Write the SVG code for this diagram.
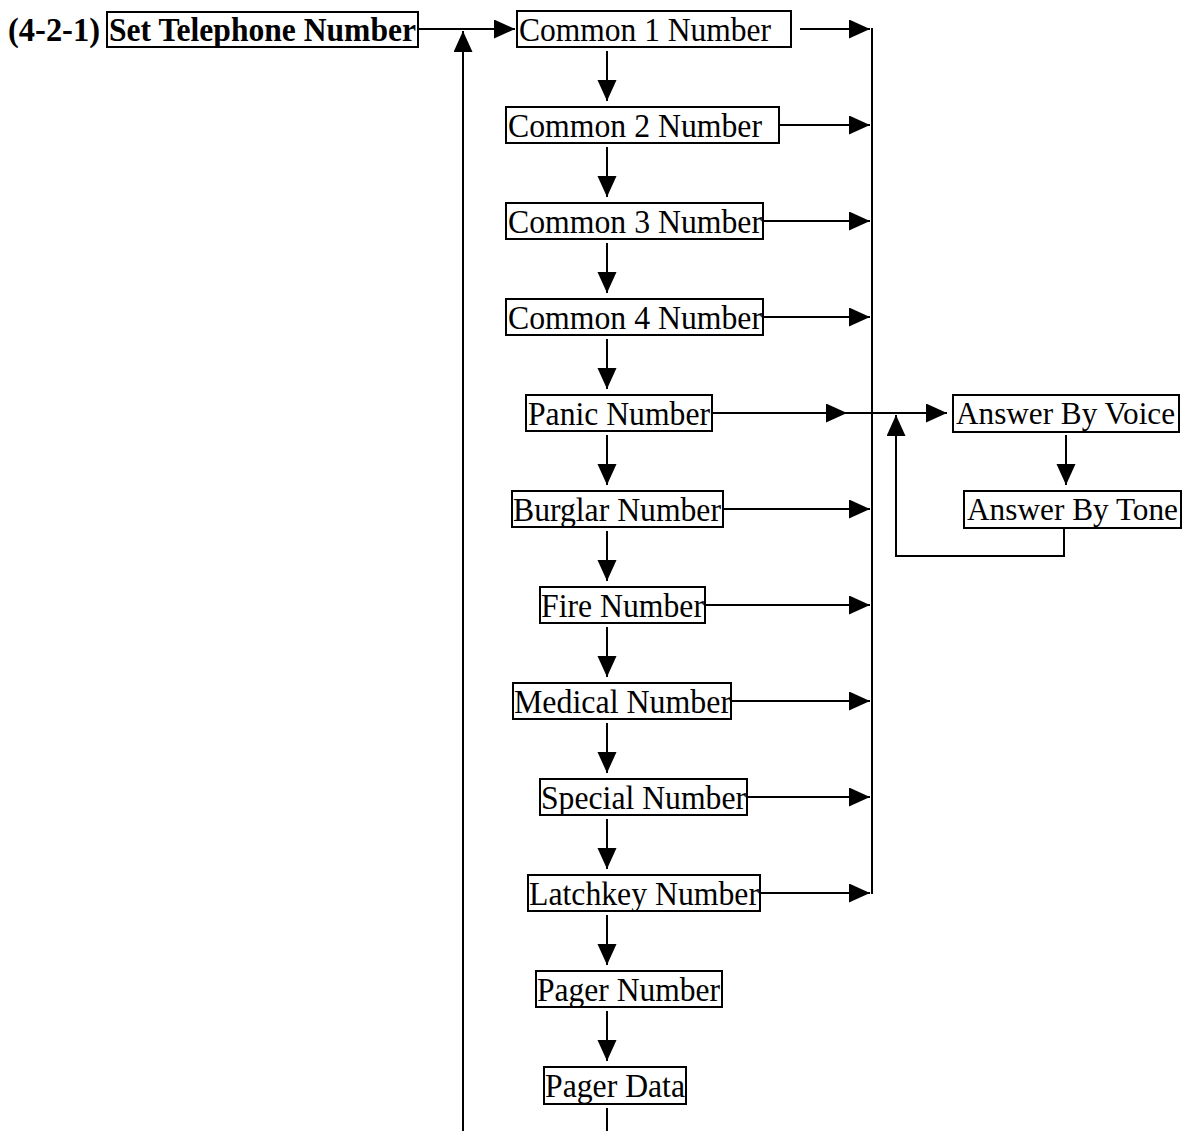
<svg xmlns="http://www.w3.org/2000/svg" width="1183" height="1131" viewBox="0 0 1183 1131">
  <defs>
    <marker id="arrow" markerUnits="userSpaceOnUse" markerWidth="22" markerHeight="20" refX="21" refY="9.5" orient="auto">
      <path d="M0,0 L21,9.5 L0,19 z" fill="#000"/>
    </marker>
    <style>
      rect.box { fill: #fff; stroke: #000; stroke-width: 2; }
      text { font-family: "Liberation Serif", "Times New Roman", serif; font-size: 34px; fill: #000; }
      text.bold { font-weight: bold; }
      text.small { font-size: 31px; }
      .conn line, .conn polyline { stroke: #000; stroke-width: 2; fill: none; }
      .conn .arr { marker-end: url(#arrow); }
    </style>
  </defs>
  <rect width="1183" height="1131" fill="#fff"/>

  <!-- connectors -->
  <g class="conn" id="connectors">
    <!-- entry into the menu and return path -->
    <line class="arr" x1="418" y1="29" x2="515" y2="29"/>
    <line class="arr" x1="463" y1="1131" x2="463" y2="31"/>
    <!-- vertical chain down the menu -->
    <line class="arr" x1="607" y1="51" x2="607" y2="101"/>
    <line class="arr" x1="607" y1="147" x2="607" y2="197"/>
    <line class="arr" x1="607" y1="243" x2="607" y2="293"/>
    <line class="arr" x1="607" y1="339" x2="607" y2="389"/>
    <line class="arr" x1="607" y1="435" x2="607" y2="485"/>
    <line class="arr" x1="607" y1="531" x2="607" y2="581"/>
    <line class="arr" x1="607" y1="627" x2="607" y2="677"/>
    <line class="arr" x1="607" y1="723" x2="607" y2="773"/>
    <line class="arr" x1="607" y1="819" x2="607" y2="869"/>
    <line class="arr" x1="607" y1="915" x2="607" y2="965"/>
    <line class="arr" x1="607" y1="1011" x2="607" y2="1061"/>
    <line x1="607" y1="1108" x2="607" y2="1131"/>
    <!-- right-hand branches into the bus -->
    <line class="arr" x1="800" y1="29" x2="870" y2="29"/>
    <line class="arr" x1="779" y1="125" x2="870" y2="125"/>
    <line class="arr" x1="763" y1="221" x2="870" y2="221"/>
    <line class="arr" x1="763" y1="317" x2="870" y2="317"/>
    <line class="arr" x1="723" y1="509" x2="870" y2="509"/>
    <line class="arr" x1="705" y1="605" x2="870" y2="605"/>
    <line class="arr" x1="731" y1="701" x2="870" y2="701"/>
    <line class="arr" x1="747" y1="797" x2="870" y2="797"/>
    <line class="arr" x1="760" y1="893" x2="870" y2="893"/>
    <line x1="872" y1="28" x2="872" y2="894"/>
    <!-- panic sub-menu -->
    <line class="arr" x1="712" y1="413" x2="847" y2="413"/>
    <line class="arr" x1="847" y1="413" x2="947" y2="413"/>
    <line class="arr" x1="1066" y1="435" x2="1066" y2="485"/>
    <polyline points="1064,529 1064,556 896,556"/>
    <line class="arr" x1="896" y1="557" x2="896" y2="415"/>
  </g>

  <!-- title -->
  <g id="title">
    <text class="bold" x="8" y="41" textLength="92" lengthAdjust="spacingAndGlyphs">(4-2-1)</text>
  </g>
  <g id="set-telephone-number">
    <rect class="box" x="107" y="12" width="311" height="35"/>
    <text class="bold" x="109" y="41" textLength="307" lengthAdjust="spacingAndGlyphs">Set Telephone Number</text>
  </g>

  <!-- menu items -->
  <g id="common-1">
    <rect class="box" x="517" y="11" width="274" height="36"/>
    <text x="519" y="41" textLength="252" lengthAdjust="spacingAndGlyphs">Common 1 Number</text>
  </g>
  <g id="common-2">
    <rect class="box" x="506" y="107" width="273" height="36"/>
    <text x="508" y="137" textLength="254" lengthAdjust="spacingAndGlyphs">Common 2 Number</text>
  </g>
  <g id="common-3">
    <rect class="box" x="506" y="203" width="257" height="36"/>
    <text x="508" y="233" textLength="254" lengthAdjust="spacingAndGlyphs">Common 3 Number</text>
  </g>
  <g id="common-4">
    <rect class="box" x="506" y="299" width="257" height="36"/>
    <text x="508" y="329" textLength="254" lengthAdjust="spacingAndGlyphs">Common 4 Number</text>
  </g>
  <g id="panic">
    <rect class="box" x="526" y="395" width="186" height="36"/>
    <text x="528" y="425" textLength="182" lengthAdjust="spacingAndGlyphs">Panic Number</text>
  </g>
  <g id="burglar">
    <rect class="box" x="512" y="491" width="211" height="36"/>
    <text x="513" y="521" textLength="208" lengthAdjust="spacingAndGlyphs">Burglar Number</text>
  </g>
  <g id="fire">
    <rect class="box" x="540" y="587" width="165" height="36"/>
    <text x="541" y="617" textLength="163" lengthAdjust="spacingAndGlyphs">Fire Number</text>
  </g>
  <g id="medical">
    <rect class="box" x="513" y="683" width="218" height="36"/>
    <text x="514" y="713" textLength="217" lengthAdjust="spacingAndGlyphs">Medical Number</text>
  </g>
  <g id="special">
    <rect class="box" x="540" y="779" width="207" height="36"/>
    <text x="541" y="809" textLength="205" lengthAdjust="spacingAndGlyphs">Special Number</text>
  </g>
  <g id="latchkey">
    <rect class="box" x="528" y="875" width="232" height="36"/>
    <text x="529" y="905" textLength="230" lengthAdjust="spacingAndGlyphs">Latchkey Number</text>
  </g>
  <g id="pager-number">
    <rect class="box" x="536" y="971" width="186" height="36"/>
    <text x="537" y="1001" textLength="183" lengthAdjust="spacingAndGlyphs">Pager Number</text>
  </g>
  <g id="pager-data">
    <rect class="box" x="544" y="1067" width="142" height="37"/>
    <text x="545" y="1097" textLength="140" lengthAdjust="spacingAndGlyphs">Pager Data</text>
  </g>

  <!-- panic answer modes -->
  <g id="answer-voice">
    <rect class="box" x="953" y="395" width="226" height="37"/>
    <text class="small" x="956" y="424" textLength="219" lengthAdjust="spacingAndGlyphs">Answer By Voice</text>
  </g>
  <g id="answer-tone">
    <rect class="box" x="964" y="491" width="217" height="37"/>
    <text class="small" x="967" y="520" textLength="211" lengthAdjust="spacingAndGlyphs">Answer By Tone</text>
  </g>
</svg>
